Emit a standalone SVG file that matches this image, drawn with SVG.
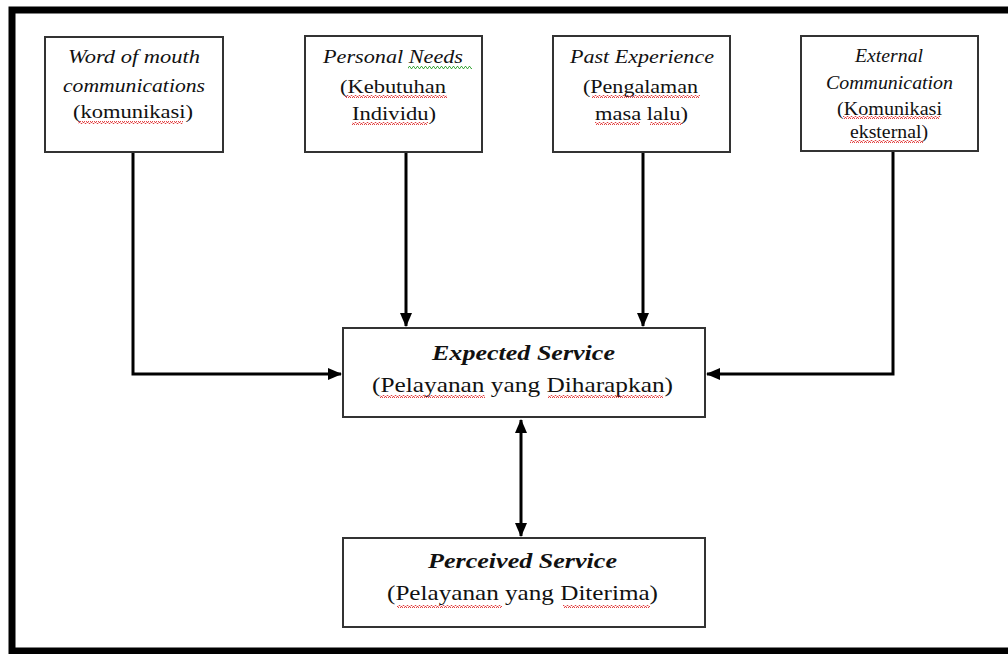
<svg xmlns="http://www.w3.org/2000/svg" width="1008" height="654" viewBox="0 0 1008 654">
<style>
.box{fill:#fff;stroke:#333;stroke-width:2}
.t{font-family:"Liberation Serif","Times New Roman",serif;fill:#111}
.i{font-style:italic}
.b{font-weight:bold;font-style:italic}
.c{fill:none;stroke:#000;stroke-width:3}
</style>
<defs>
<marker id="ah" markerUnits="userSpaceOnUse" markerWidth="14" markerHeight="14" viewBox="0 0 14 14" refX="13" refY="7" orient="auto-start-reverse">
<path d="M0,1 L14,7 L0,13 Z" fill="#000"/>
</marker>
<pattern id="sqr" width="4" height="3" patternUnits="userSpaceOnUse">
<path d="M0,2.5 L1,0.5 L2,0.5 L3,2.5 L4,2.5" fill="none" stroke="#e03030" stroke-width="0.9"/>
</pattern>
<pattern id="sqg" width="4" height="3" patternUnits="userSpaceOnUse">
<path d="M0,2.5 L1,0.5 L2,0.5 L3,2.5 L4,2.5" fill="none" stroke="#30a030" stroke-width="0.9"/>
</pattern>
</defs>
<rect width="1008" height="654" fill="#fff"/>
<rect x="12" y="10" width="1010" height="641" fill="none" stroke="#000" stroke-width="7"/>

<g id="connectors">
<path class="c" d="M133,152 V374 H341" marker-end="url(#ah)"/>
<path class="c" d="M406,152 V326" marker-end="url(#ah)"/>
<path class="c" d="M643,152 V326" marker-end="url(#ah)"/>
<path class="c" d="M893,151 V374 H707" marker-end="url(#ah)"/>
<path class="c" d="M521,420 V536" marker-start="url(#ah)" marker-end="url(#ah)"/>
</g>

<g id="node-word-of-mouth">
<rect class="box" x="45" y="37" width="178" height="115"/>
<text class="t i" x="68" y="63" font-size="19" textLength="132" lengthAdjust="spacingAndGlyphs">Word of mouth</text>
<text class="t i" x="63" y="92" font-size="19" textLength="142" lengthAdjust="spacingAndGlyphs">communications</text>
<text class="t" x="73" y="118" font-size="19" textLength="120" lengthAdjust="spacingAndGlyphs">(komunikasi)</text>
<rect x="78" y="121" width="105" height="3" fill="url(#sqr)"/>
</g>

<g id="node-personal-needs">
<rect class="box" x="305" y="36" width="177" height="116"/>
<text class="t i" x="323" y="63" font-size="19" textLength="140" lengthAdjust="spacingAndGlyphs">Personal Needs</text>
<text class="t" x="340" y="93" font-size="19" textLength="106" lengthAdjust="spacingAndGlyphs">(Kebutuhan</text>
<text class="t" x="352" y="120" font-size="19" textLength="84" lengthAdjust="spacingAndGlyphs">Individu)</text>
<rect x="408" y="66" width="64" height="3" fill="url(#sqg)"/>
<rect x="345" y="95" width="102" height="3" fill="url(#sqr)"/>
<rect x="352" y="122" width="76" height="3" fill="url(#sqr)"/>
</g>

<g id="node-past-experience">
<rect class="box" x="553" y="36" width="177" height="116"/>
<text class="t i" x="570" y="63" font-size="19" textLength="144" lengthAdjust="spacingAndGlyphs">Past Experience</text>
<text class="t" x="583" y="93" font-size="19" textLength="115" lengthAdjust="spacingAndGlyphs">(Pengalaman</text>
<text class="t" x="595" y="120" font-size="19" textLength="93" lengthAdjust="spacingAndGlyphs">masa lalu)</text>
<rect x="592" y="95" width="108" height="3" fill="url(#sqr)"/>
<rect x="595" y="122" width="45" height="3" fill="url(#sqr)"/>
<rect x="650" y="122" width="32" height="3" fill="url(#sqr)"/>
</g>

<g id="node-external-communication">
<rect class="box" x="801" y="36" width="177" height="115"/>
<text class="t i" x="855" y="62" font-size="18" textLength="68" lengthAdjust="spacingAndGlyphs">External</text>
<text class="t i" x="826" y="89" font-size="18" textLength="127" lengthAdjust="spacingAndGlyphs">Communication</text>
<text class="t" x="837" y="115" font-size="18" textLength="105" lengthAdjust="spacingAndGlyphs">(Komunikasi</text>
<text class="t" x="850" y="138" font-size="18" textLength="78" lengthAdjust="spacingAndGlyphs">eksternal)</text>
<rect x="843" y="116" width="97" height="3" fill="url(#sqr)"/>
<rect x="850" y="140" width="73" height="3" fill="url(#sqr)"/>
</g>

<g id="node-expected-service">
<rect class="box" x="343" y="328" width="362" height="89"/>
<text class="t b" x="432" y="360" font-size="22" textLength="183" lengthAdjust="spacingAndGlyphs">Expected Service</text>
<text class="t" x="372" y="392" font-size="21" textLength="301" lengthAdjust="spacingAndGlyphs">(Pelayanan yang Diharapkan)</text>
<rect x="380" y="395" width="105" height="3" fill="url(#sqr)"/>
<rect x="548" y="395" width="115" height="3" fill="url(#sqr)"/>
</g>

<g id="node-perceived-service">
<rect class="box" x="343" y="538" width="362" height="89"/>
<text class="t b" x="428" y="568" font-size="22" textLength="189" lengthAdjust="spacingAndGlyphs">Perceived Service</text>
<text class="t" x="387" y="600" font-size="21" textLength="271" lengthAdjust="spacingAndGlyphs">(Pelayanan yang Diterima)</text>
<rect x="397" y="605" width="105" height="3" fill="url(#sqr)"/>
<rect x="563" y="605" width="87" height="3" fill="url(#sqr)"/>
</g>
</svg>
